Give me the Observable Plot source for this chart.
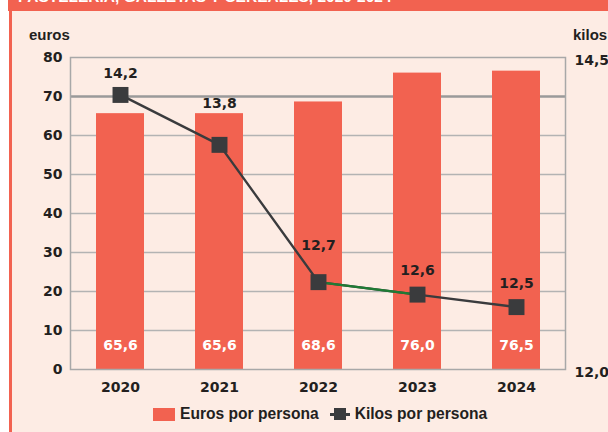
<!DOCTYPE html>
<html>
<head>
<meta charset="utf-8">
<script src="https://cdn.jsdelivr.net/npm/d3@7"></script>
<script src="https://cdn.jsdelivr.net/npm/@observablehq/plot@0.6"></script>
<style>
  html, body { margin: 0; padding: 0; }
  body { width: 608px; height: 432px; position: relative; overflow: hidden; background: #ffffff; }
  #hdr { position: absolute; left: 8px; top: 0; width: 600px; height: 11px; background: #f26250; overflow: hidden; }
  #hdr span { position: absolute; left: 10px; top: -12px; line-height: 16px; color: #fff; font: bold 15.5px "Liberation Sans", Arial, sans-serif; white-space: nowrap; }
  #panel { position: absolute; left: 9px; top: 11px; width: 599px; height: 421px; border-left: 3px solid #f26250; background: #fdece4; box-sizing: border-box; }
  #chart { position: absolute; left: 0; top: 0; }
  .ttl { position: absolute; top: 26px; font: bold 15px "Liberation Sans", Arial, sans-serif; color: #231f20; }
  #legend { position: absolute; left: 153px; top: 405px; display: flex; align-items: center; font: bold 15.6px "Liberation Sans", Arial, sans-serif; color: #231f20; }
  .sw { width: 22px; height: 13px; background: #f26250; margin-right: 5px; }
  .li { position: relative; width: 20px; height: 13px; margin-left: 11px; margin-right: 5px; }
  .li::before { content: ""; position: absolute; left: 0; right: 0; top: 5.5px; height: 2.5px; background: #3a3b3d; }
  .li::after { content: ""; position: absolute; left: 4px; top: 0.5px; width: 12px; height: 12px; background: #3a3b3d; }
</style>
</head>
<body>
<div id="hdr"><span>PASTELERÍA, GALLETAS Y CEREALES, 2020-2024</span></div>
<div id="panel"></div>
<div id="chart"></div>
<div class="ttl" style="left:29px">euros</div>
<div class="ttl" style="left:573px">kilos</div>
<div id="legend">
  <div class="sw"></div><span>Euros por persona</span>
  <div class="li"></div><span>Kilos por persona</span>
</div>
<script>
const years = ["2020", "2021", "2022", "2023", "2024"];
const euros = [65.6, 65.6, 68.6, 76.0, 76.5];
const kilos = [14.2, 13.8, 12.7, 12.6, 12.5];
const eurosTicks = [0, 10, 20, 30, 40, 50, 60, 70, 80];
const kilosTicks = [12.0, 14.5];

const eMax = eurosTicks[eurosTicks.length - 1];
const toE = k => (k - kilosTicks[0]) / (kilosTicks[1] - kilosTicks[0]) * eMax;
const fmt = v => d3.format(".1f")(v).replace(".", ",");

const data = years.map((year, i) => ({year, euros: euros[i], kilos: kilos[i], ky: toE(kilos[i])}));

const RED = "#f26250", DARK = "#3a3b3d", GREEN = "#1e7b34", TXT = "#231f20";
const numFont = {fontFamily: "DejaVu Sans", fontWeight: "bold", fontSize: 14};

const chart = Plot.plot({
  width: 608,
  height: 400,
  marginLeft: 70,
  marginRight: 43,
  marginTop: 57,
  marginBottom: 31,
  style: {background: "transparent", fontFamily: "DejaVu Sans", fontWeight: "bold", fontSize: "14px", color: TXT},
  x: {type: "band", domain: years, paddingInner: 0.52, paddingOuter: 0.26},
  y: {domain: [0, eMax]},
  marks: [
    Plot.gridY(eurosTicks.filter(t => t > 0 && t < eMax && t !== 70), {stroke: "#b3b3b3", strokeOpacity: 1, strokeWidth: 1.5}),
    Plot.ruleY([70], {stroke: "#9a9a9a", strokeWidth: 2.5}),
    Plot.barY(data, {x: "year", y: "euros", fill: RED}),
    Plot.frame({stroke: "#a8a8a8", strokeWidth: 1.5}),
    Plot.axisY({ticks: eurosTicks, tickSize: 0, tickPadding: 8, label: null, fill: TXT, ...numFont}),
    Plot.axisY({anchor: "right", ticks: kilosTicks.map(toE), tickFormat: v => fmt(kilosTicks[0] + v / eMax * (kilosTicks[1] - kilosTicks[0])), tickSize: 0, tickPadding: 9, dy: 3, label: null, fill: TXT, ...numFont}),
    Plot.axisX({tickSize: 0, tickPadding: 13, label: null, fill: TXT, ...numFont}),
    Plot.text(data, {x: "year", y: 0, dy: -24, text: d => fmt(d.euros), fill: "white", ...numFont}),
    Plot.line(data, {x: "year", y: "ky", stroke: DARK, strokeWidth: 2.4}),
    Plot.line(data.filter(d => d.year === "2022" || d.year === "2023"), {x: "year", y: "ky", stroke: GREEN, strokeWidth: 2.4}),
    Plot.dot(data, {x: "year", y: "ky", symbol: "square", r: 9, fill: DARK, stroke: null}),
    Plot.text(data.filter(d => d.year === "2020"), {x: "year", y: "ky", dy: -21, text: d => fmt(d.kilos), fill: TXT, ...numFont}),
    Plot.text(data.filter(d => d.year === "2021"), {x: "year", y: "ky", dy: -41, text: d => fmt(d.kilos), fill: TXT, ...numFont}),
    Plot.text(data.filter(d => d.year === "2022"), {x: "year", y: "ky", dy: -37, text: d => fmt(d.kilos), fill: TXT, ...numFont}),
    Plot.text(data.filter(d => d.year === "2023" || d.year === "2024"), {x: "year", y: "ky", dy: -24, text: d => fmt(d.kilos), fill: TXT, ...numFont})
  ]
});
document.getElementById("chart").appendChild(chart);
</script>
</body>
</html>
